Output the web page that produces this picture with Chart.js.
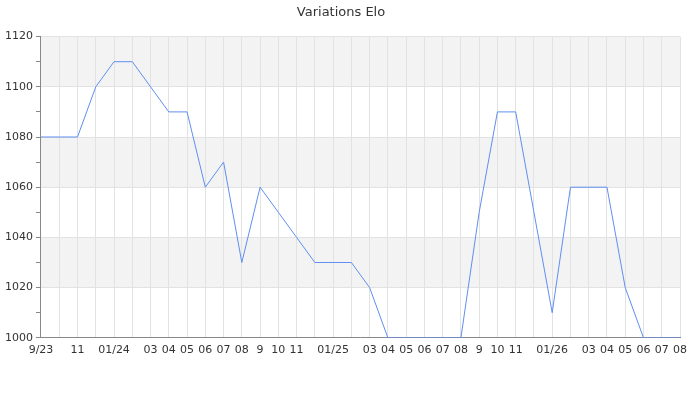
<!DOCTYPE html>
<html>
<head>
<meta charset="utf-8">
<script src="https://cdn.jsdelivr.net/npm/chart.js@4"></script>
<style>
  html, body { margin: 0; padding: 0; background: #fff; }
  #wrap { width: 700px; height: 400px; position: relative; }
</style>
</head>
<body>
<div id="wrap"><canvas id="c"></canvas></div>
<script>
const labels = ["9/23","","11","","01/24","","03","04","05","06","07","08","9","10","11","","01/25","","03","04","05","06","07","08","9","10","11","","01/26","","03","04","05","06","07","08"];
const eloValues = [1080,1080,1080,1100,1110,1110,1100,1090,1090,1060,1070,1030,1060,1050,1040,1030,1030,1030,1020,1000,1000,1000,1000,1000,1050,1090,1090,1050,1010,1060,1060,1060,1020,1000,1000,1000];
const yMin = 1000, yMax = 1120, yLabelStep = 20, yTickStep = 10;
const chartTitle = "Variations Elo";

const bandPlugin = {
  id: 'bands',
  beforeDraw(chart) {
    const {ctx, chartArea, scales} = chart;
    const y = scales.y;
    ctx.save();
    ctx.fillStyle = '#f3f3f3';
    let i = 0;
    for (let v = yMin; v < yMax; v += yLabelStep, i++) {
      if (i % 2 === 1) {
        const top = y.getPixelForValue(v + yLabelStep);
        const bot = y.getPixelForValue(v);
        ctx.fillRect(chartArea.left, top, chartArea.right - chartArea.left, bot - top);
      }
    }
    ctx.restore();
  }
};

new Chart(document.getElementById('c'), {
  type: 'line',
  data: {
    labels: labels,
    datasets: [{
      data: eloValues,
      borderColor: '#5f8ff0',
      borderWidth: 1,
      pointRadius: 0,
      tension: 0,
      fill: false
    }]
  },
  options: {
    responsive: true,
    maintainAspectRatio: false,
    animation: false,
    layout: { padding: { left: 2, right: 20, bottom: 37, top: 0 } },
    plugins: {
      legend: { display: false },
      tooltip: { enabled: false },
      title: {
        display: true,
        text: chartTitle,
        color: '#333',
        font: { family: 'DejaVu Sans', size: 13, weight: 'normal' },
        padding: { top: 5, bottom: 16 }
      }
    },
    scales: {
      x: {
        offset: false,
        grid: { color: '#e2e2e2', drawTicks: false, lineWidth: 1 },
        border: { color: '#888', width: 1 },
        ticks: {
          autoSkip: false,
          maxRotation: 0,
          padding: 6,
          color: '#333',
          font: { family: 'DejaVu Sans', size: 11 }
        }
      },
      y: {
        min: yMin,
        max: yMax,
        grid: {
          color: (c) => (c.tick && c.tick.value % yLabelStep === 0) ? '#e2e2e2' : 'rgba(0,0,0,0)',
          tickColor: '#888',
          tickLength: 5,
          drawTicks: true
        },
        border: { color: '#888', width: 1 },
        ticks: {
          stepSize: yTickStep,
          padding: 3,
          color: '#333',
          font: { family: 'DejaVu Sans', size: 11 },
          callback: (v) => (v % yLabelStep === 0 ? String(v) : '')
        }
      }
    }
  },
  plugins: [bandPlugin]
});
</script>
</body>
</html>
